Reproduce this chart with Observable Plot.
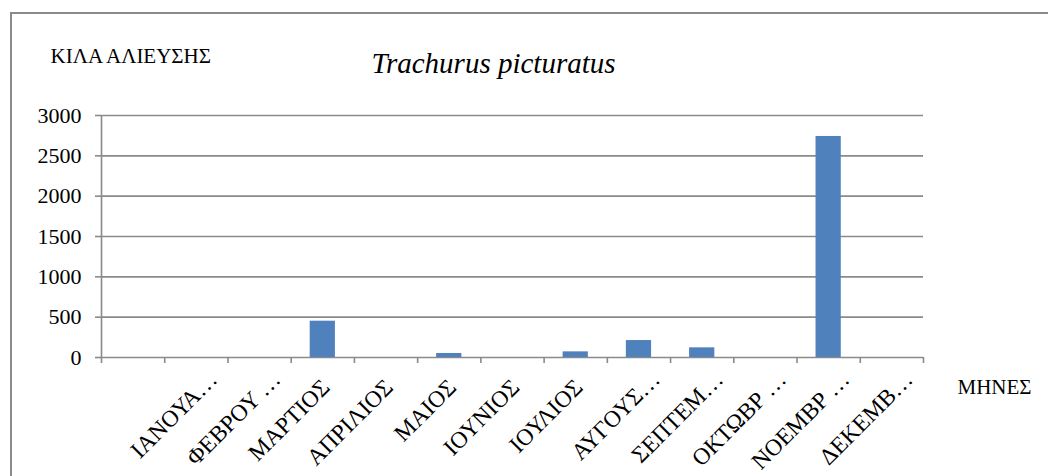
<!DOCTYPE html>
<html>
<head>
<meta charset="utf-8">
<script src="https://cdn.jsdelivr.net/npm/d3@7"></script>
<script src="https://cdn.jsdelivr.net/npm/@observablehq/plot@0.6"></script>
<style>
  html, body { margin: 0; padding: 0; background: #fff; font-family: "Liberation Serif", serif; }
  #wrap { position: relative; width: 1048px; height: 476px; overflow: hidden; }
  #border { position: absolute; left: 10px; top: 12px; width: 2000px; height: 2000px;
            border-left: 2px solid #8a8a8a; border-top: 2px solid #8a8a8a; pointer-events: none; }
</style>
</head>
<body>
<div id="wrap"><div id="border"></div></div>
<script>
const months = ["", "ΙΑΝΟΥΑ…", "ΦΕΒΡΟΥ …", "ΜΑΡΤΙΟΣ", "ΑΠΡΙΛΙΟΣ", "ΜΑΙΟΣ", "ΙΟΥΝΙΟΣ",
                "ΙΟΥΛΙΟΣ", "ΑΥΓΟΥΣ…", "ΣΕΠΤΕΜ…", "ΟΚΤΩΒΡ …", "ΝΟΕΜΒΡ …", "ΔΕΚΕΜΒ…"];
const kilos = [null, 0, 0, 450, 0, 50, 0, 70, 210, 120, 0, 2740, 0];
const yTicks = [0, 500, 1000, 1500, 2000, 2500, 3000];
const title = "Trachurus picturatus";
const yLabel = "ΚΙΛΑ ΑΛΙΕΥΣΗΣ";
const xLabel = "ΜΗΝΕΣ";

const data = months.map((m, i) => ({month: m, i, value: kilos[i]}));
const bars = data.filter(d => d.value != null);
const fullLabels = data.filter(d => d.month && !d.month.includes("…"));
const cutLabels = data.filter(d => d.month.includes("…"));
const edges = d3.range(months.length + 1);
const gray = "#8a8a8a";
const ff = "Liberation Serif";

const chart = Plot.plot({
  width: 1048,
  height: 476,
  marginLeft: 101,
  marginRight: 125,
  marginTop: 115,
  marginBottom: 119,
  style: {background: "transparent", overflow: "visible"},
  x: {type: "linear", domain: [0, months.length], axis: null},
  y: {type: "linear", domain: [0, 3000], axis: null},
  marks: [
    Plot.ruleY(yTicks, {stroke: gray, strokeWidth: 1.6}),
    Plot.ruleX([0], {y1: 0, y2: 3000, stroke: gray, strokeWidth: 1.6}),
    Plot.rectY(bars, {x1: d => d.i, x2: d => d.i + 1, y1: 0, y2: "value",
                      fill: "#4F81BD", insetLeft: 19, insetRight: 19}),
    Plot.axisY({ticks: yTicks, tickSize: 6, tickPadding: 14, stroke: gray, strokeWidth: 1.6,
                fill: "#000", fontSize: 22, label: null, tickFormat: d => String(d)}),
    Plot.axisX({ticks: edges, tickSize: 6, stroke: gray, strokeWidth: 1.6, label: null,
                tickFormat: () => ""}),
    Plot.text(fullLabels, {x: d => d.i + 0.5, y: 0, text: "month", rotate: -45, textAnchor: "end",
                           dx: 3, dy: 26, fontSize: 23.5, fill: "#000"}),
    Plot.text(cutLabels, {x: d => d.i + 0.5, y: 0, text: "month", rotate: -45, textAnchor: "end",
                          dx: 17, dy: 18, fontSize: 23.5, fill: "#000"}),
    Plot.text([xLabel], {x: months.length, y: 0, textAnchor: "start", dx: 34, dy: 30,
                         fontSize: 21, fill: "#000"}),
    Plot.text([yLabel], {frameAnchor: "top-left", textAnchor: "start", dx: -51, dy: -67,
                         fontSize: 21, fill: "#000"}),
    Plot.text([title], {frameAnchor: "top", dx: -19, dy: -63, fontSize: 29,
                        fontStyle: "italic", fill: "#000"})
  ]
});
d3.select(chart).attr("font-family", ff).style("font-family", ff);
d3.select(chart).selectAll("g, text").attr("font-family", ff).style("font-family", ff);
document.getElementById("wrap").prepend(chart);
</script>
</body>
</html>
